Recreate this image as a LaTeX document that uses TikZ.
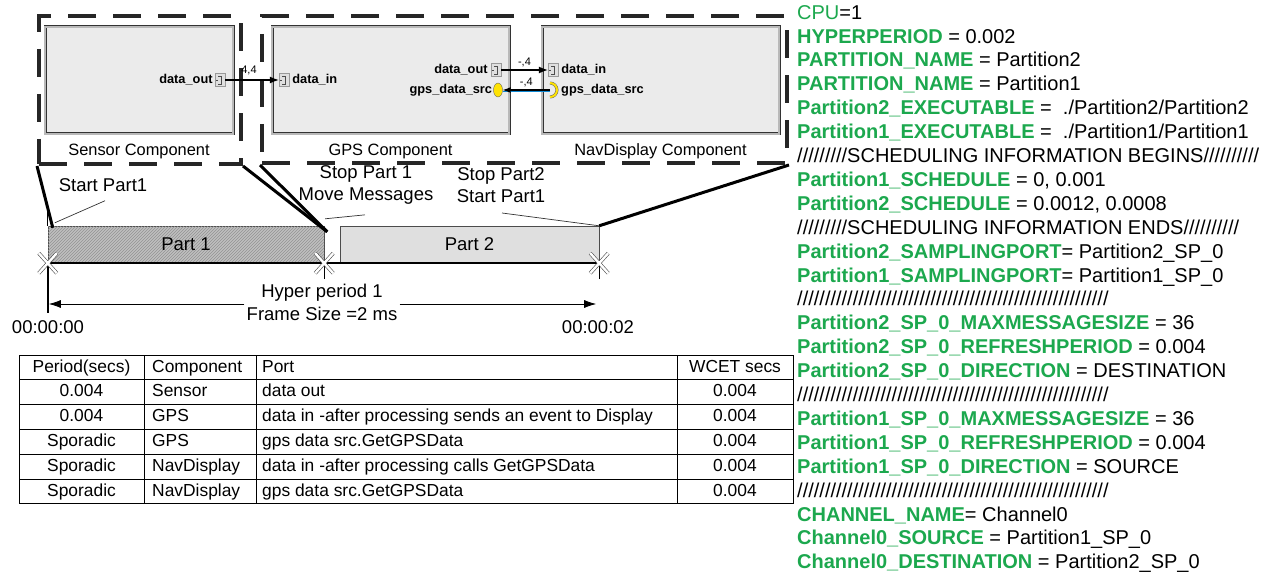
\documentclass[tikz,border=0pt]{standalone}
\usepackage{fontspec}
\setmainfont{Liberation Sans}
\usepackage{tikz}
\usetikzlibrary{positioning,calc,arrows.meta,patterns,shapes.geometric}
\definecolor{cfggreen}{RGB}{28,168,78}
\definecolor{boxgray}{RGB}{235,235,235}
\newcommand{\cfgkey}[1]{\textcolor{cfggreen}{\bfseries #1}}
\newcommand{\portglyph}[1]{\draw[black!70, line width=0.6pt] ($(#1.center)+(-2,-4)$) -- ++(3,0) -- ++(0,8) -- ++(-3,0) ($(#1.center)+(-4,0)$) -- ++(2,0);}

\begin{document}
\begin{tikzpicture}[x=1pt, y=-1pt,
    compbox/.style={draw=black!80, double=gray!55, double distance=1.4pt, line width=0.8pt, fill=boxgray, minimum width=#1, minimum height=107pt, inner sep=0pt},
    dashbox/.style={draw=black!85, line width=4pt, dash pattern=on 28pt off 17pt, minimum width=#1, inner sep=0pt},
    complbl/.style={font=\fontsize{16.4}{18}\selectfont, inner sep=0pt},
    pname/.style={font=\fontsize{12.8}{14}\selectfont\bfseries, inner sep=0pt},
    port/.style={draw=gray!80, fill=gray!25, minimum width=10pt, minimum height=13pt, inner sep=0pt},
    yport/.style={ellipse, draw=black!60, fill=yellow!85!orange, minimum width=9pt, minimum height=14pt, inner sep=0pt},
    lbl/.style={font=\fontsize{18.5}{22.5}\selectfont, align=center, inner sep=0pt},
    small/.style={font=\fontsize{11}{12}\selectfont, inner sep=1pt},
    zoomline/.style={line width=3pt, black},
    callout/.style={line width=0.7pt, black!80},
    xmark/.style={draw=gray!60!black, double=white, double distance=2.4pt, line width=0.6pt},
    tblline/.style={line width=1pt},
    cell/.style={font=\fontsize{17.4}{18}\selectfont, inner sep=0pt, text height=12.5pt, text depth=3pt},
    cfg/.style={font=\fontsize{20}{23.9}\selectfont, align=left, inner sep=0pt}]
  \useasboundingbox (0,0) rectangle (1270,575);

  % components
  \node[compbox=188pt] (sensor) at (139,80.5) {};
  \node[compbox=237pt] (gps) at (390.5,80.5) {};
  \node[compbox=237pt] (nav) at (660.5,80.5) {};
  \node[complbl, below=9pt of sensor] (sensorlbl) {Sensor Component};
  \node[complbl, below=9pt of gps] (gpslbl) {GPS Component};
  \node[complbl, below=9pt of nav] (navlbl) {NavDisplay Component};
  \node[dashbox=202pt, minimum height=148pt] (grpA) at (140,90) {};
  \node[dashbox=525pt, minimum height=147pt] (grpB) at (524.5,89.5) {};

  % ports
  \node[port] (sout) at (220,80) {};
  \node[pname, left=2pt of sout] {data\_out};
  \node[port] (gin) at (284,80) {};
  \node[pname, right=3pt of gin] {data\_in};
  \node[port] (gout) at (496,70) {};
  \node[pname, left=3pt of gout] {data\_out};
  \node[yport] (gsrc) at (498,90) {};
  \node[pname, left=1pt of gsrc] {gps\_data\_src};
  \node[port] (nin) at (553,70) {};
  \node[pname, right=3pt of nin] {data\_in};
  \coordinate (nsrc) at (550,90);
  \node[pname, anchor=west] at (561,90) {gps\_data\_src};
  \foreach \p in {sout,gin,gout,nin} {\portglyph{\p}}
  \draw[black!60, double=yellow!85!orange, double distance=2pt, line width=0.5pt] (550,83) arc[start angle=-90, end angle=90, radius=7];

  \path[-{Latex[length=9pt,width=7pt]}, line width=1.2pt]
    (sout) edge node[small, above=3pt, xshift=-3pt] {4,4} (gin)
    (gout) edge node[small, above=1pt] {-,4} (nin);
  \draw[cyan!70!blue, line width=1.5pt] ([yshift=-1.5pt]nsrc) -- ([yshift=-1.5pt]gsrc.east);
  \draw[-{Latex[length=8pt,width=6pt]}, line width=1.1pt] (nsrc) -- (gsrc) node[small, midway, above=2pt] {-,4};

  % timeline
  \node[lbl, minimum width=276pt, minimum height=37pt, draw=gray!60!black, fill=gray!50, postaction={pattern=north east lines, pattern color=gray!85}] (p1) at (186,244.5) {Part 1};
  \node[lbl, minimum width=259pt, minimum height=37pt, draw=gray!60!black, fill=gray!25] (p2) at (469.5,244.5) {Part 2};
  \draw[line width=1.6pt] (p1.south west) -- (p2.south east);
  \draw[line width=0.8pt] ($(p1.north west)+(0,-18)$) -- (p1.north west);
  \draw[line width=2.5pt] (p1.south west) -- ++(0,50);
  \draw[->, line width=0.6pt] ($(p1.south east)+(0,16)$) -- (p1.south east);
  \draw[->, line width=0.6pt] ($(p2.south east)+(0,16)$) -- (p2.south east);
  \foreach \c in {p1.south west, p1.south east, p2.south east}
    \draw[xmark] ($(\c)+(-9,-10)$) -- ($(\c)+(9,10)$) ($(\c)+(-9,10)$) -- ($(\c)+(9,-10)$);

  \node[lbl] (start) at (103,185) {Start Part1};
  \node[lbl] (stop1) at (366,185) {Stop Part 1\\Move Messages};
  \node[lbl] (stop2) at (501,185) {Stop Part2\\Start Part1};
  \draw[callout] ($(start.south)+(2,9)$) -- ($(p1.north west)+(7,-3)$);
  \draw[callout] ($(stop1.south)+(-1,10)$) -- ($(p1.north east)+(1,-7)$);
  \draw[callout] ($(stop2.south)+(1,10)$) -- (p2.north east);

  \draw[zoomline] (grpA.south west) -- ($(p1.north west)+(5,2)$);
  \draw[zoomline] (grpA.south east) -- ($(p1.north east)+(3,6)$);
  \draw[zoomline] (grpB.south west) -- ($(p1.north east)+(3,6)$);
  \draw[zoomline] (grpB.south east) -- (p2.north east);

  \node[lbl] (hp) at (322,302.5) {Hyper period 1\\Frame Size =2 ms};
  \draw[-{Latex[length=12pt,width=8pt]}, line width=0.8pt] ($(hp.west)+(-2,1.5)$) -- ($(p1.south west |- hp.west)+(1,1.5)$);
  \draw[-{Latex[length=12pt,width=8pt]}, line width=0.8pt] ($(hp.east)+(2,1.5)$) -- ($(p2.south east |- hp.east)+(-3,1.5)$);
  \node[lbl] (t0) at (48,327) {00:00:00};
  \node[lbl] (t2) at (598,327) {00:00:02};

  % table
  \foreach \r in {0,...,6}
    \draw[tblline] (19,{355+24.83*\r}) -- (793,{355+24.83*\r});
  \foreach \cx in {19,144,256,677,793}
    \draw[tblline] (\cx,355) -- (\cx,504);
  \foreach \per/\comp/\port/\wc [count=\i from 0] in {
      Period(secs)/Component/Port/WCET secs,
      0.004/Sensor/data out/0.004,
      0.004/GPS/data in -after processing sends an event to Display/0.004,
      Sporadic/GPS/gps data src.GetGPSData/0.004,
      Sporadic/NavDisplay/data in -after processing calls GetGPSData/0.004,
      Sporadic/NavDisplay/gps data src.GetGPSData/0.004} {
    \node[cell] (per\i) at (81.5,{367.4+24.83*\i}) {\per};
    \node[cell, anchor=west] (comp\i) at (152,{367.4+24.83*\i}) {\comp};
    \node[cell, anchor=west] (port\i) at (262,{367.4+24.83*\i}) {\port};
    \node[cell] (wcet\i) at (735,{367.4+24.83*\i}) {\wc};
  }

  % configuration file
  \node[cfg, anchor=north west] (cfg) at (797,5) {%
    \textcolor{cfggreen}{CPU}=1\\
    \cfgkey{HYPERPERIOD} = 0.002\\
    \cfgkey{PARTITION\_NAME} = Partition2\\
    \cfgkey{PARTITION\_NAME} = Partition1\\
    \cfgkey{Partition2\_EXECUTABLE} = \ ./Partition2/Partition2\\
    \cfgkey{Partition1\_EXECUTABLE} = \ ./Partition1/Partition1\\
    /////////SCHEDULING INFORMATION BEGINS//////////\\
    \cfgkey{Partition1\_SCHEDULE} = 0, 0.001\\
    \cfgkey{Partition2\_SCHEDULE} = 0.0012, 0.0008\\
    /////////SCHEDULING INFORMATION ENDS//////////\\
    \cfgkey{Partition2\_SAMPLINGPORT}= Partition2\_SP\_0\\
    \cfgkey{Partition1\_SAMPLINGPORT}= Partition1\_SP\_0\\
    ////////////////////////////////////////////////////////\\
    \cfgkey{Partition2\_SP\_0\_MAXMESSAGESIZE} = 36\\
    \cfgkey{Partition2\_SP\_0\_REFRESHPERIOD} = 0.004\\
    \cfgkey{Partition2\_SP\_0\_DIRECTION} = DESTINATION\\
    ////////////////////////////////////////////////////////\\
    \cfgkey{Partition1\_SP\_0\_MAXMESSAGESIZE} = 36\\
    \cfgkey{Partition1\_SP\_0\_REFRESHPERIOD} = 0.004\\
    \cfgkey{Partition1\_SP\_0\_DIRECTION} = SOURCE\\
    ////////////////////////////////////////////////////////\\
    \cfgkey{CHANNEL\_NAME}= Channel0\\
    \cfgkey{Channel0\_SOURCE} = Partition1\_SP\_0\\
    \cfgkey{Channel0\_DESTINATION} = Partition2\_SP\_0};
\end{tikzpicture}
\end{document}
